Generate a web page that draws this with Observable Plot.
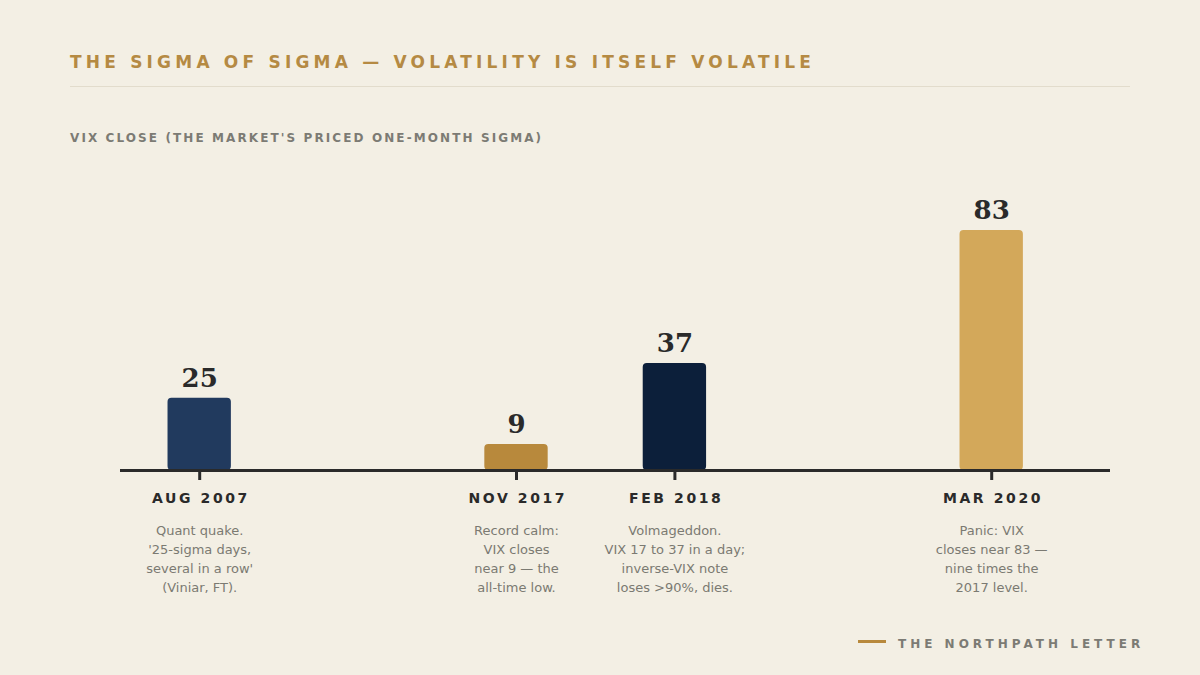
<!DOCTYPE html>
<html>
<head>
<meta charset="utf-8">
<script src="https://cdn.jsdelivr.net/npm/d3@7"></script>
<script src="https://cdn.jsdelivr.net/npm/@observablehq/plot@0.6"></script>
<style>
  html, body { margin: 0; padding: 0; background: #f3efe4; }
  body { width: 1200px; height: 675px; position: relative; overflow: hidden; font-family: "DejaVu Sans", sans-serif; }
  .abs { position: absolute; white-space: nowrap; line-height: 1; }
  #title { left: 70px; top: 54px; font-size: 17px; font-weight: bold; letter-spacing: 4.2px; color: #b58a43; }
  #rule { left: 70px; top: 86px; width: 1060px; height: 1px; background: #e2dccc; }
  #subtitle { left: 70px; top: 131.5px; font-size: 12px; font-weight: bold; letter-spacing: 2.1px; color: #7c7b74; }
  #footline { left: 858px; top: 640px; width: 28px; height: 3px; background: #b8893c; }
  #footer { left: 898px; top: 637.8px; font-size: 12px; font-weight: bold; letter-spacing: 4px; color: #7c7b74; }
  #chart { position: absolute; left: 0; top: 0; }
  #chart svg { background: transparent; overflow: visible; }
  #chart g[aria-label="x-axis tick label"] text { letter-spacing: 2.6px; }
</style>
</head>
<body>
<div id="title" class="abs">THE SIGMA OF SIGMA — VOLATILITY IS ITSELF VOLATILE</div>
<div id="rule" class="abs"></div>
<div id="subtitle" class="abs">VIX CLOSE (THE MARKET'S PRICED ONE-MONTH SIGMA)</div>
<div id="chart"></div>
<div id="footline" class="abs"></div>
<div id="footer" class="abs">THE NORTHPATH LETTER</div>
<script>
const periods = ["AUG 2007", "NOV 2017", "FEB 2018", "MAR 2020"];
const slots = [0, 2, 3, 5];
const vixClose = [25, 9, 37, 83];
const barColors = ["#213a5e", "#b8893c", "#0c1f3a", "#d3a85a"];
const notes = [
  "Quant quake.\n'25-sigma days,\nseveral in a row'\n(Viniar, FT).",
  "Record calm:\nVIX closes\nnear 9 — the\nall-time low.",
  "Volmageddon.\nVIX 17 to 37 in a day;\ninverse-VIX note\nloses >90%, dies.",
  "Panic: VIX\ncloses near 83 —\nnine times the\n2017 level."
];

const data = periods.map((p, i) => ({period: p, slot: slots[i], value: vixClose[i], color: barColors[i], note: notes[i]}));
const halfBar = 0.2;

const chart = Plot.plot({
  width: 1200,
  height: 675,
  marginTop: 230,
  marginBottom: 205,
  marginLeft: 120,
  marginRight: 90,
  style: {background: "transparent", fontFamily: "DejaVu Sans, sans-serif"},
  x: {type: "linear", domain: [-0.5, 5.75]},
  y: {domain: [0, 83], axis: null},
  marks: [
    Plot.rectY(data, {x1: d => d.slot - halfBar, x2: d => d.slot + halfBar, y1: 0, y2: "value", fill: "color", rx: 4}),
    Plot.ruleY([0], {stroke: "#2a2a2a", strokeWidth: 3}),
    Plot.axisX({
      ticks: slots,
      tickSize: 10,
      stroke: "#2a2a2a",
      strokeWidth: 3,
      fill: "none",
      label: null
    }),
    Plot.axisX({
      ticks: slots,
      tickFormat: d => periods[slots.indexOf(d)],
      tickSize: 0,
      tickPadding: 23,
      fill: "#2a2a2a",
      fontSize: 14,
      fontWeight: "bold",
      dx: 1.3,
      label: null
    }),
    Plot.text(data, {
      x: "slot", y: "value", text: d => String(d.value),
      dy: -11.5, lineAnchor: "bottom",
      fontFamily: "DejaVu Serif", fontWeight: "bold", fontSize: 26, fill: "#2a2a2a"
    }),
    Plot.text(data, {
      x: "slot", frameAnchor: "bottom", text: "note",
      dy: 51, lineAnchor: "top", lineHeight: 1.46,
      fontSize: 13, fill: "#7b7a72"
    })
  ]
});
document.getElementById("chart").appendChild(chart);
</script>
</body>
</html>
